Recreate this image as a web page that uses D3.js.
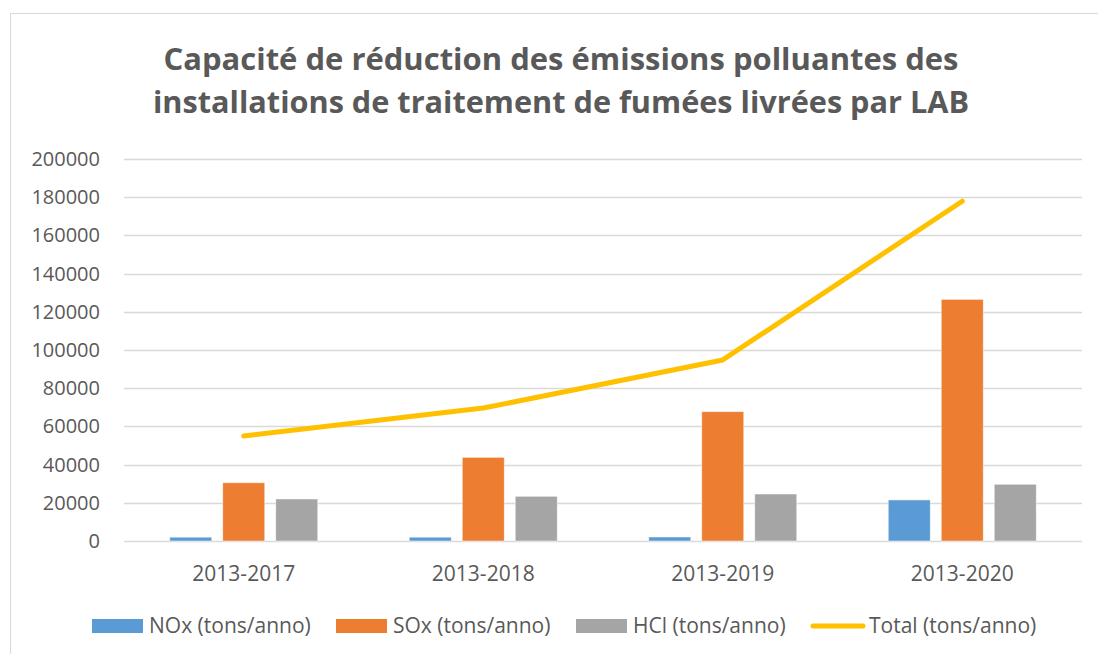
<!DOCTYPE html>
<html>
<head>
<meta charset="utf-8">
<script src="https://cdn.jsdelivr.net/npm/d3@7"></script>
<style>
  body { margin: 0; background: #fff; }
  svg { display: block; }
</style>
</head>
<body>
<script>
// chart values
var categories = ["2013-2017", "2013-2018", "2013-2019", "2013-2020"];
var noxValues = [2000, 2000, 2100, 21500];
var soxValues = [30500, 43800, 67700, 126500];
var hclValues = [22000, 23400, 24600, 29700];
var totalValues = [55000, 69600, 94800, 177900];
var yTicks = [0, 20000, 40000, 60000, 80000, 100000, 120000, 140000, 160000, 180000, 200000];
var titleLines = ["Capacité de réduction des émissions polluantes des",
                  "installations de traitement de fumées livrées par LAB"];

var barSeries = [
  { name: "NOx (tons/anno)", values: noxValues, color: "#5B9BD5" },
  { name: "SOx (tons/anno)", values: soxValues, color: "#ED7D31" },
  { name: "HCl (tons/anno)", values: hclValues, color: "#A5A5A5" }
];
var lineColor = "#FFC000";

var W = 1098, H = 654;
var textColor = "#595959";
var font = "'Open Sans', 'Liberation Sans', sans-serif";

var svg = d3.select("body").append("svg")
  .attr("width", W)
  .attr("height", H);

// chart frame
svg.append("rect")
  .attr("x", 10.5).attr("y", 13.5)
  .attr("width", 1100).attr("height", 700)
  .attr("fill", "#fff")
  .attr("stroke", "#d9d9d9")
  .attr("stroke-width", 1);

// title
svg.selectAll(".title")
  .data(titleLines)
  .enter().append("text")
  .attr("class", "title")
  .attr("x", 561)
  .attr("y", function (d, i) { return 70 + i * 43; })
  .attr("text-anchor", "middle")
  .attr("font-family", font)
  .attr("font-weight", "bold")
  .attr("font-size", 30)
  .attr("fill", textColor)
  .attr("textLength", function (d, i) { return i == 0 ? 795 : 816; })
  .attr("lengthAdjust", "spacingAndGlyphs")
  .text(function (d) { return d; });

var plot = { left: 124, right: 1082, top: 159, bottom: 541 };

var x = d3.scaleBand()
  .domain(categories)
  .range([plot.left, plot.right]);

var y = d3.scaleLinear()
  .domain([0, 200000])
  .range([plot.bottom, plot.top]);

var barW = 42, barStep = 53;

// gridlines
svg.append("g")
  .selectAll("line")
  .data(yTicks)
  .enter().append("line")
  .attr("x1", plot.left).attr("x2", plot.right)
  .attr("y1", function (d) { return Math.round(y(d)) + 0.5; })
  .attr("y2", function (d) { return Math.round(y(d)) + 0.5; })
  .attr("stroke", "#d9d9d9")
  .attr("stroke-width", 1.5);

// y axis labels
var yAxis = d3.axisLeft(y).tickValues(yTicks).tickSize(0).tickPadding(24)
  .tickFormat(function (d) { return String(d); });
var gy = svg.append("g")
  .attr("transform", "translate(" + plot.left + ",0)")
  .call(yAxis);
gy.select(".domain").remove();
gy.selectAll("text")
  .attr("font-family", font)
  .attr("font-size", 20)
  .attr("fill", textColor);

// bars
barSeries.forEach(function (s, si) {
  svg.append("g")
    .selectAll("rect")
    .data(s.values)
    .enter().append("rect")
    .attr("x", function (d, i) { return x(categories[i]) + x.bandwidth() / 2 + (si - 1) * barStep - barW / 2; })
    .attr("y", function (d) { return y(d); })
    .attr("width", barW)
    .attr("height", function (d) { return y(0) - y(d); })
    .attr("fill", s.color)
    .attr("stroke", "#fff")
    .attr("stroke-opacity", 0.6)
    .attr("stroke-width", 0.8);
});

// x axis labels
var xAxis = d3.axisBottom(x).tickSize(0).tickPadding(25);
var gx = svg.append("g")
  .attr("transform", "translate(0," + plot.bottom + ")")
  .call(xAxis);
gx.select(".domain").remove();
gx.selectAll("text")
  .attr("font-family", font)
  .attr("font-size", 21)
  .attr("fill", textColor);

// total line
var line = d3.line()
  .x(function (d, i) { return x(categories[i]) + x.bandwidth() / 2; })
  .y(function (d) { return y(d); });
svg.append("path")
  .datum(totalValues)
  .attr("d", line)
  .attr("fill", "none")
  .attr("stroke", lineColor)
  .attr("stroke-width", 5)
  .attr("stroke-linecap", "round")
  .attr("stroke-linejoin", "round");

// legend
var legendY = 626;
var legendItems = [
  { name: barSeries[0].name, color: barSeries[0].color, type: "bar", x: 92 },
  { name: barSeries[1].name, color: barSeries[1].color, type: "bar", x: 336 },
  { name: barSeries[2].name, color: barSeries[2].color, type: "bar", x: 576 },
  { name: "Total (tons/anno)", color: lineColor, type: "line", x: 811 }
];
var lg = svg.append("g").selectAll("g")
  .data(legendItems)
  .enter().append("g")
  .attr("transform", function (d) { return "translate(" + d.x + "," + legendY + ")"; });
lg.each(function (d) {
  var g = d3.select(this);
  if (d.type == "bar") {
    g.append("rect").attr("x", 0).attr("y", -7).attr("width", 51).attr("height", 14).attr("fill", d.color);
  } else {
    g.append("line").attr("x1", 2).attr("x2", 52).attr("y1", 0).attr("y2", 0)
      .attr("stroke", d.color).attr("stroke-width", 5).attr("stroke-linecap", "round");
  }
});
lg.append("text")
  .attr("x", function (d) { return d.type == "bar" ? 57 : 58; })
  .attr("y", 0)
  .attr("dy", "0.35em")
  .attr("font-family", font)
  .attr("font-size", 21)
  .attr("fill", textColor)
  .text(function (d) { return d.name; });
</script>
</body>
</html>
